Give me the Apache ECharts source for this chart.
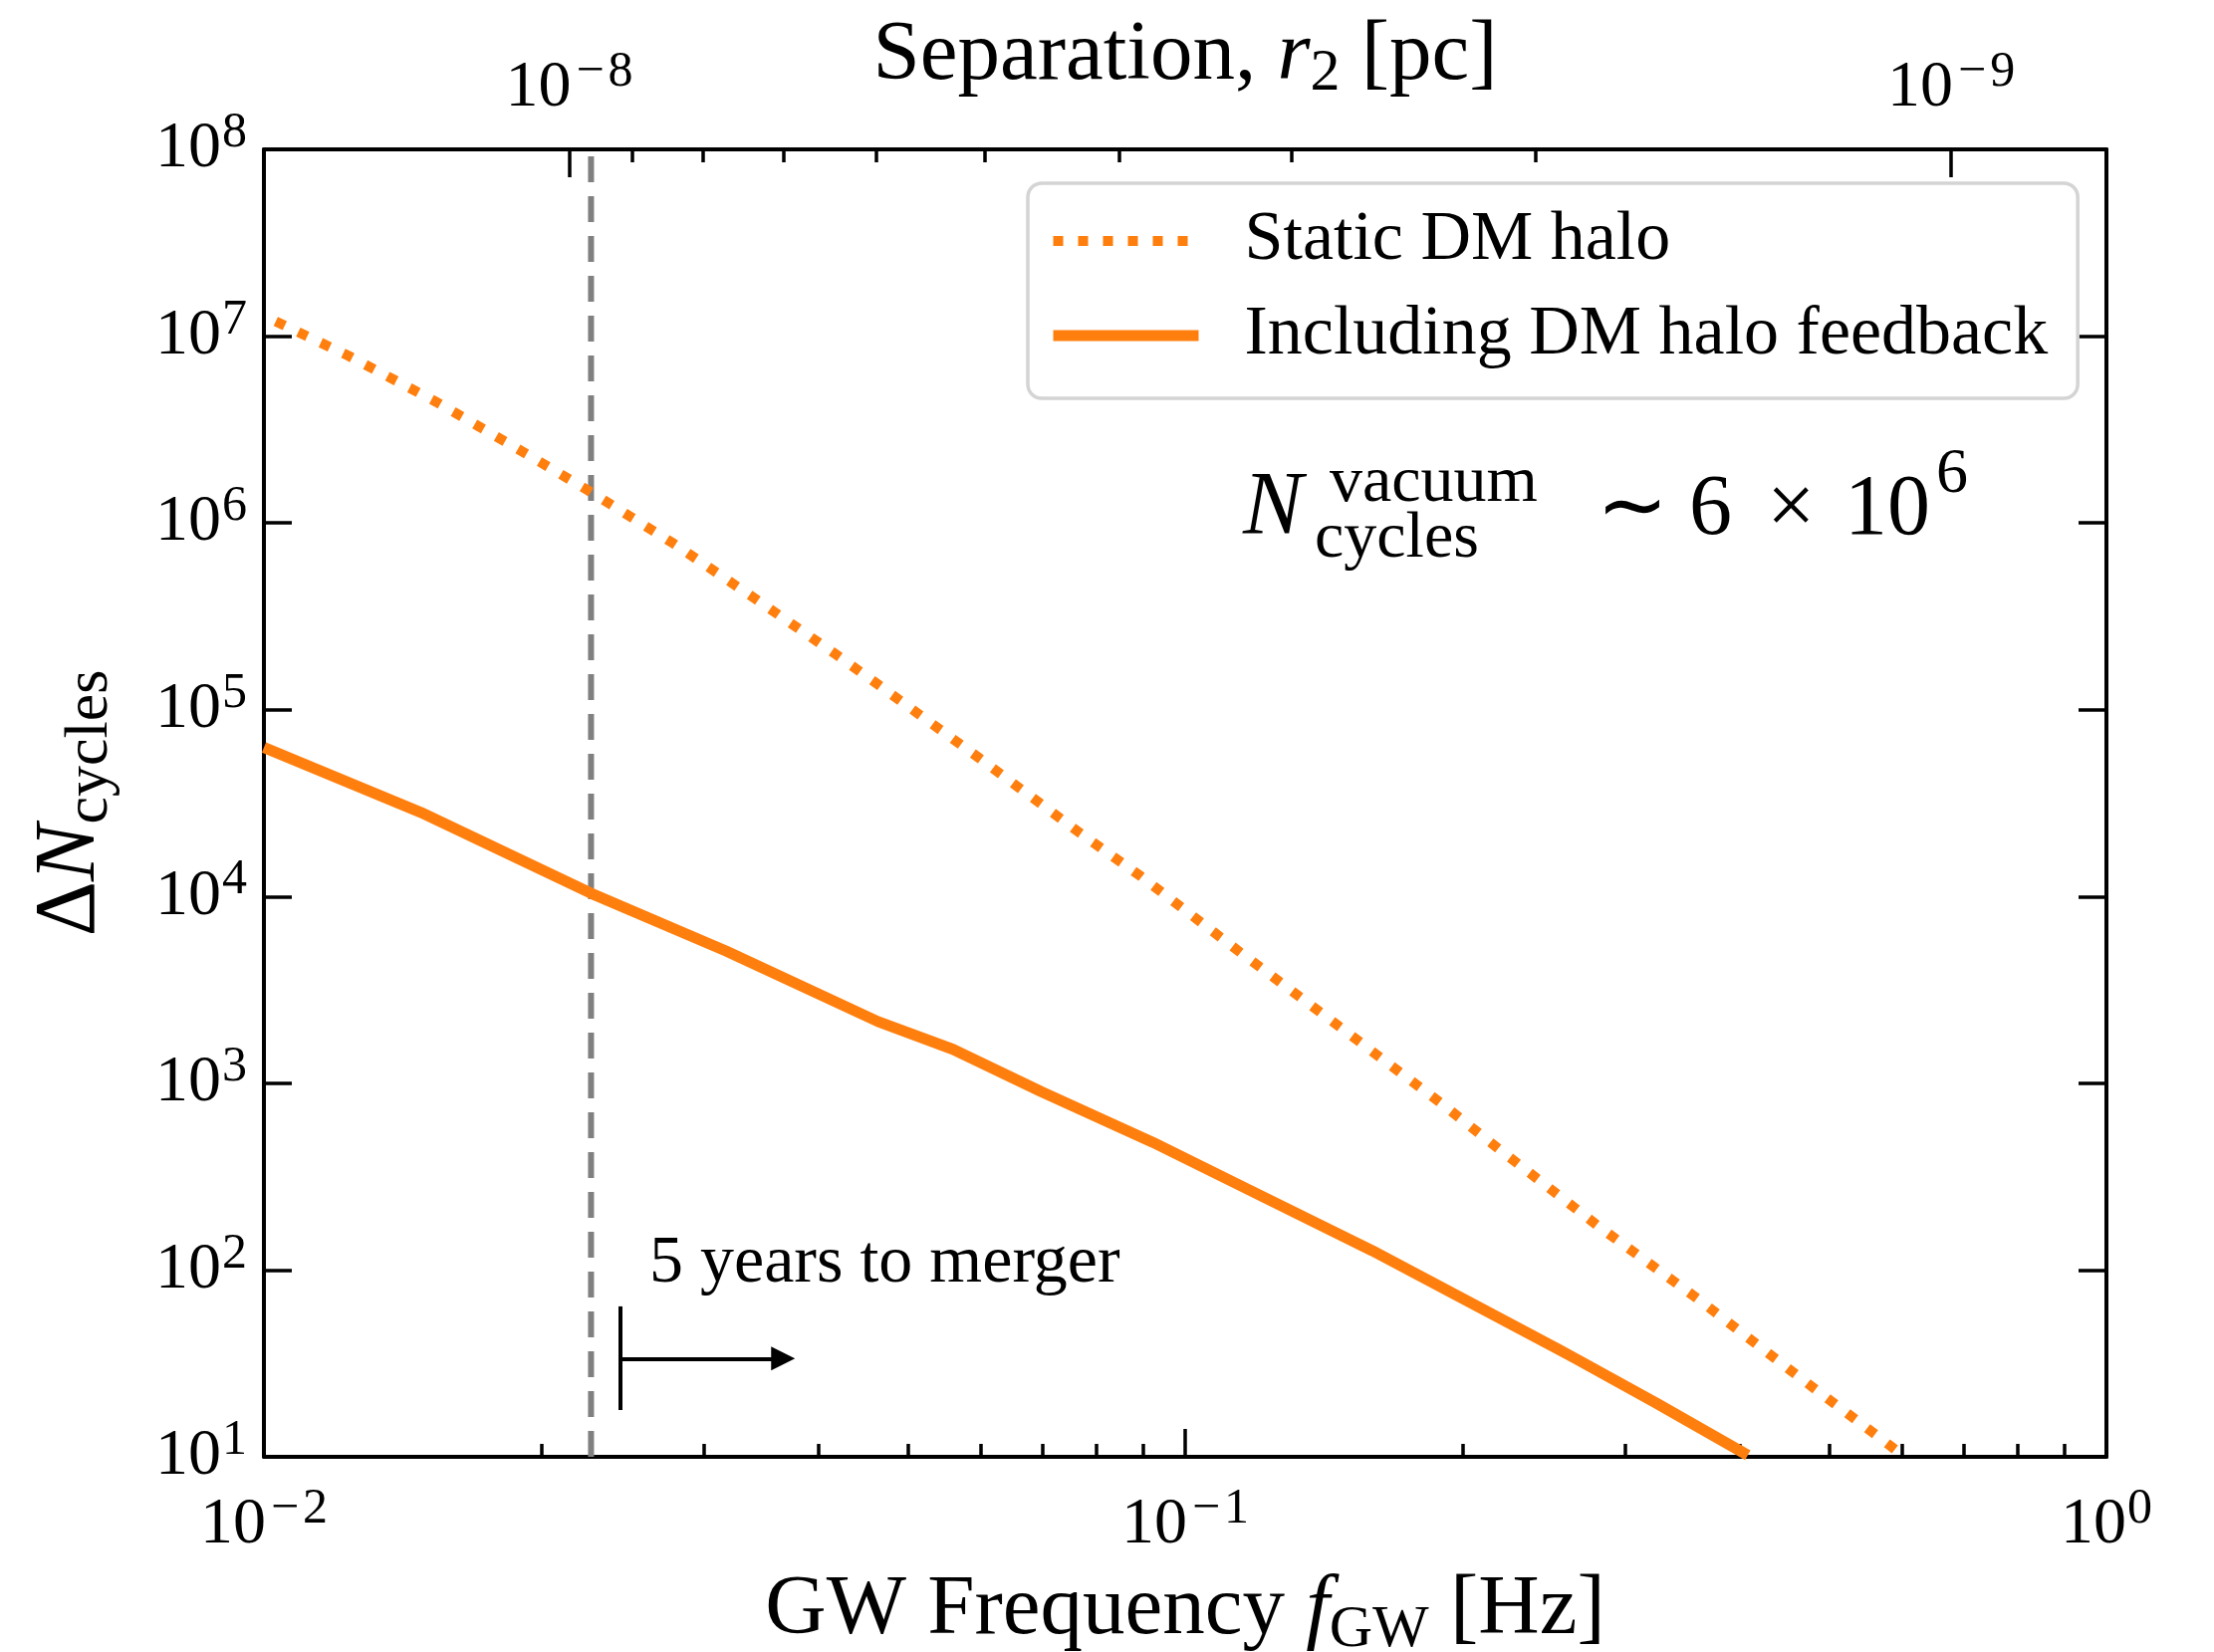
<!DOCTYPE html>
<html><head><meta charset="utf-8">
<script src="https://cdn.jsdelivr.net/npm/echarts@6/dist/echarts.min.js"></script>
<style>html,body{margin:0;padding:0;background:#fff}#c{width:2223px;height:1659px}</style>
</head><body><div id="c"></div>
<script>
// ---- data ----
const staticF = [0.0103, 0.01235, 0.01539, 0.01919, 0.02255, 0.02784, 0.03419, 0.0420, 0.04645, 0.05994, 0.07694, 0.08956, 0.1150, 0.1476, 0.1894, 0.2190, 0.2812, 0.3609, 0.4633, 0.592];
const staticN = [1.2e7, 7.85e6, 4.44e6, 2.37e6, 1.48e6, 7.76e5, 3.91e5, 1.94e5, 1.36e5, 5.45e4, 2.18e4, 1.28e4, 4.98e3, 1.98e3, 785, 445, 171, 69.5, 26.9, 10.8];
const feedbackF = [0.01, 0.0148, 0.02265, 0.03178, 0.0464, 0.05596, 0.06978, 0.09224, 0.1167, 0.1596, 0.2158, 0.2537, 0.2664, 0.324, 0.408];
const feedbackN = [6.28e4, 2.82e4, 1.04e4, 5.09e3, 2.14e3, 1.52e3, 902, 483, 272, 127, 57.7, 37.8, 33.2, 19.5, 10.2];
const fiveYearF = 0.02265;           // vertical dashed line
const arrowStartF = 0.02434, arrowEndF = 0.0366, arrowN = 33.6, barLowN = 17.8, barHighN = 63.9;
const seriesNames = ['Static DM halo', 'Including DM halo feedback'];
// axis ranges / ticks
const fRange = [0.01, 1];
const nRange = [10, 1e8];
const rRange = [7.72e-10, 1.663e-8];   // separation matching the frequency range
const fMinorTicks = [0.02,0.03,0.04,0.05,0.06,0.07,0.08,0.09,0.2,0.3,0.4,0.5,0.6,0.7,0.8,0.9];
const rMajorTicks = [1e-9, 1e-8];
const rMinorTicks = [9e-9,8e-9,7e-9,6e-9,5e-9,4e-9,3e-9,2e-9];

const FONT = '"Liberation Serif", "Times New Roman", serif';
const ORANGE = '#ff7f0e';
function sci(v) {
  const e = Math.round(Math.log10(v));
  return e < 0 ? '{b|10}{m|\u2212}{s|' + (-e) + '}' : '{b|10}{s|' + e + '}';
}
const tickRich = {
  b: {fontFamily: FONT, fontSize: 66, lineHeight: 66, color: '#000'},
  s: {fontFamily: FONT, fontSize: 50, lineHeight: 50, color: '#000', padding: [0,0,32,1]},
  m: {fontFamily: FONT, fontSize: 50, lineHeight: 50, color: '#000', padding: [0,3,32,5]}
};
function titleStyle(fs, sfs, sp) {
  return {fontFamily: FONT, fontSize: fs, lineHeight: fs, color: '#000', rich: {
    i: {fontFamily: FONT, fontStyle: 'italic', fontSize: fs, lineHeight: fs, color: '#000'},
    d: {fontFamily: FONT, fontSize: fs, lineHeight: fs, color: '#000'},
    sub: {fontFamily: FONT, fontSize: sfs, lineHeight: sfs, color: '#000', padding: [sp,0,0,0]}
  }};
}
const lineAx = {show: true, lineStyle: {color: '#000', width: 4}};
const majorTick = {show: true, inside: true, length: 28, lineStyle: {color: '#000', width: 3.5}};
const minorTick = {show: true, inside: true, length: 13, lineStyle: {color: '#000', width: 3.5}};

const chart = echarts.init(document.getElementById('c'), null, {renderer: 'canvas'});
chart.setOption({
  animation: false,
  backgroundColor: '#fff',
  textStyle: {fontFamily: FONT},
  grid: {left: 265, right: 108, top: 150, bottom: 196, containLabel: false, outerBoundsMode: 'none'},
  xAxis: [
    {type: 'log', logBase: 10, min: fRange[0], max: fRange[1], position: 'bottom',
     axisLine: lineAx, axisTick: majorTick, splitLine: {show: false},
     axisLabel: {margin: 36, formatter: sci, rich: tickRich},
     name: 'GW Frequency {i|f}{sub|GW} [Hz]', nameLocation: 'middle', nameGap: 112, nameMoveOverlap: false,
     nameTextStyle: titleStyle(85, 60, 40)},
    {type: 'log', logBase: 10, min: fRange[0], max: fRange[1], position: 'bottom',
     axisLine: {show: false}, axisLabel: {show: false}, splitLine: {show: false},
     axisTick: Object.assign({customValues: fMinorTicks}, minorTick)},
    {type: 'log', logBase: 10, min: rRange[0], max: rRange[1], position: 'top', inverse: true,
     axisLine: lineAx, splitLine: {show: false},
     axisTick: Object.assign({customValues: rMajorTicks}, majorTick),
     axisLabel: {customValues: rMajorTicks, margin: 28, formatter: sci, rich: tickRich},
     name: 'Separation, {i|r}{sub|2} [pc]', nameLocation: 'middle', nameGap: 51, nameMoveOverlap: false,
     nameTextStyle: titleStyle(85, 60, 36)},
    {type: 'log', logBase: 10, min: rRange[0], max: rRange[1], position: 'top', inverse: true,
     axisLine: {show: false}, axisLabel: {show: false}, splitLine: {show: false},
     axisTick: Object.assign({customValues: rMinorTicks}, minorTick)}
  ],
  yAxis: [
    {type: 'log', logBase: 10, min: nRange[0], max: nRange[1], position: 'left',
     axisLine: lineAx, axisTick: majorTick, splitLine: {show: false},
     axisLabel: {margin: 17, formatter: sci, rich: tickRich},
     name: '{d|\u0394}{i|N}{sub|cycles}', nameLocation: 'middle', nameRotate: 90, nameGap: 151, nameMoveOverlap: false,
     nameTextStyle: titleStyle(86, 62, 40)},
    {type: 'log', logBase: 10, min: nRange[0], max: nRange[1], position: 'right',
     axisLine: lineAx, axisTick: majorTick, splitLine: {show: false}, axisLabel: {show: false}}
  ],
  legend: {
    orient: 'vertical', left: 1032, top: 184, padding: [23, 30, 28, 20],
    itemWidth: 146, itemHeight: 20, itemGap: 25, selectedMode: false,
    backgroundColor: 'rgba(255,255,255,0.85)', borderColor: '#d4d4d4', borderWidth: 3.5, borderRadius: 14,
    itemStyle: {opacity: 0},
    textStyle: {fontFamily: FONT, fontSize: 70, lineHeight: 70, color: '#000', padding: [0,0,0,41]},
    data: [
      {name: seriesNames[0], lineStyle: {width: 10}},
      {name: seriesNames[1], lineStyle: {width: 11}}
    ]
  },
  series: [
    {type: 'line', name: '5yr', xAxisIndex: 0, yAxisIndex: 0, symbol: 'none', silent: true,
     data: [[fiveYearF, nRange[0]], [fiveYearF, nRange[1]]],
     lineStyle: {color: '#808080', width: 6, type: [26, 14]},
     markLine: {silent: true, animation: false, symbol: ['none', 'triangle'], symbolSize: 24,
       label: {show: false}, emphasis: {disabled: true},
       lineStyle: {color: '#000', width: 4, type: 'solid'},
       data: [
         [{coord: [arrowStartF, arrowN]}, {coord: [arrowEndF, arrowN]}],
         [{coord: [arrowStartF, barLowN], symbol: 'none'}, {coord: [arrowStartF, barHighN], symbol: 'none'}]
       ]}},
    {type: 'line', name: seriesNames[0], xAxisIndex: 0, yAxisIndex: 0, symbol: 'none', smooth: false,
     data: staticF.map((f, i) => [f, staticN[i]]),
     lineStyle: {color: ORANGE, width: 10, type: [10, 15], cap: 'butt'}, itemStyle: {color: ORANGE}},
    {type: 'line', name: seriesNames[1], xAxisIndex: 0, yAxisIndex: 0, symbol: 'none', smooth: false,
     data: feedbackF.map((f, i) => [f, feedbackN[i]]),
     lineStyle: {color: ORANGE, width: 11, type: 'solid'}, itemStyle: {color: ORANGE}}
  ],
  graphic: [
    {type: 'text', left: 1248, top: 467, style: {text: 'N', font: 'italic 90px ' + FONT, fill: '#000'}},
    {type: 'text', left: 1335, top: 453, style: {text: 'vacuum', font: '66px ' + FONT, fill: '#000'}},
    {type: 'text', left: 1320, top: 509, style: {text: 'cycles', font: '66px ' + FONT, fill: '#000'}},
    {type: 'text', left: 1603, top: 470, style: {text: '\u223C', font: '86px ' + FONT, fill: '#000'}},
    {type: 'text', left: 1696, top: 470, style: {text: '6', font: '86px ' + FONT, fill: '#000'}},
    {type: 'text', left: 1774, top: 470, style: {text: '\u00D7', font: '86px ' + FONT, fill: '#000'}},
    {type: 'text', left: 1852, top: 470, style: {text: '10', font: '86px ' + FONT, fill: '#000'}},
    {type: 'text', left: 1944, top: 445, style: {text: '6', font: '64px ' + FONT, fill: '#000'}},
    {type: 'text', left: 652, top: 1235, style: {text: '5 years to merger', font: '68px ' + FONT, fill: '#000'}}
  ]
});
</script></body></html>
